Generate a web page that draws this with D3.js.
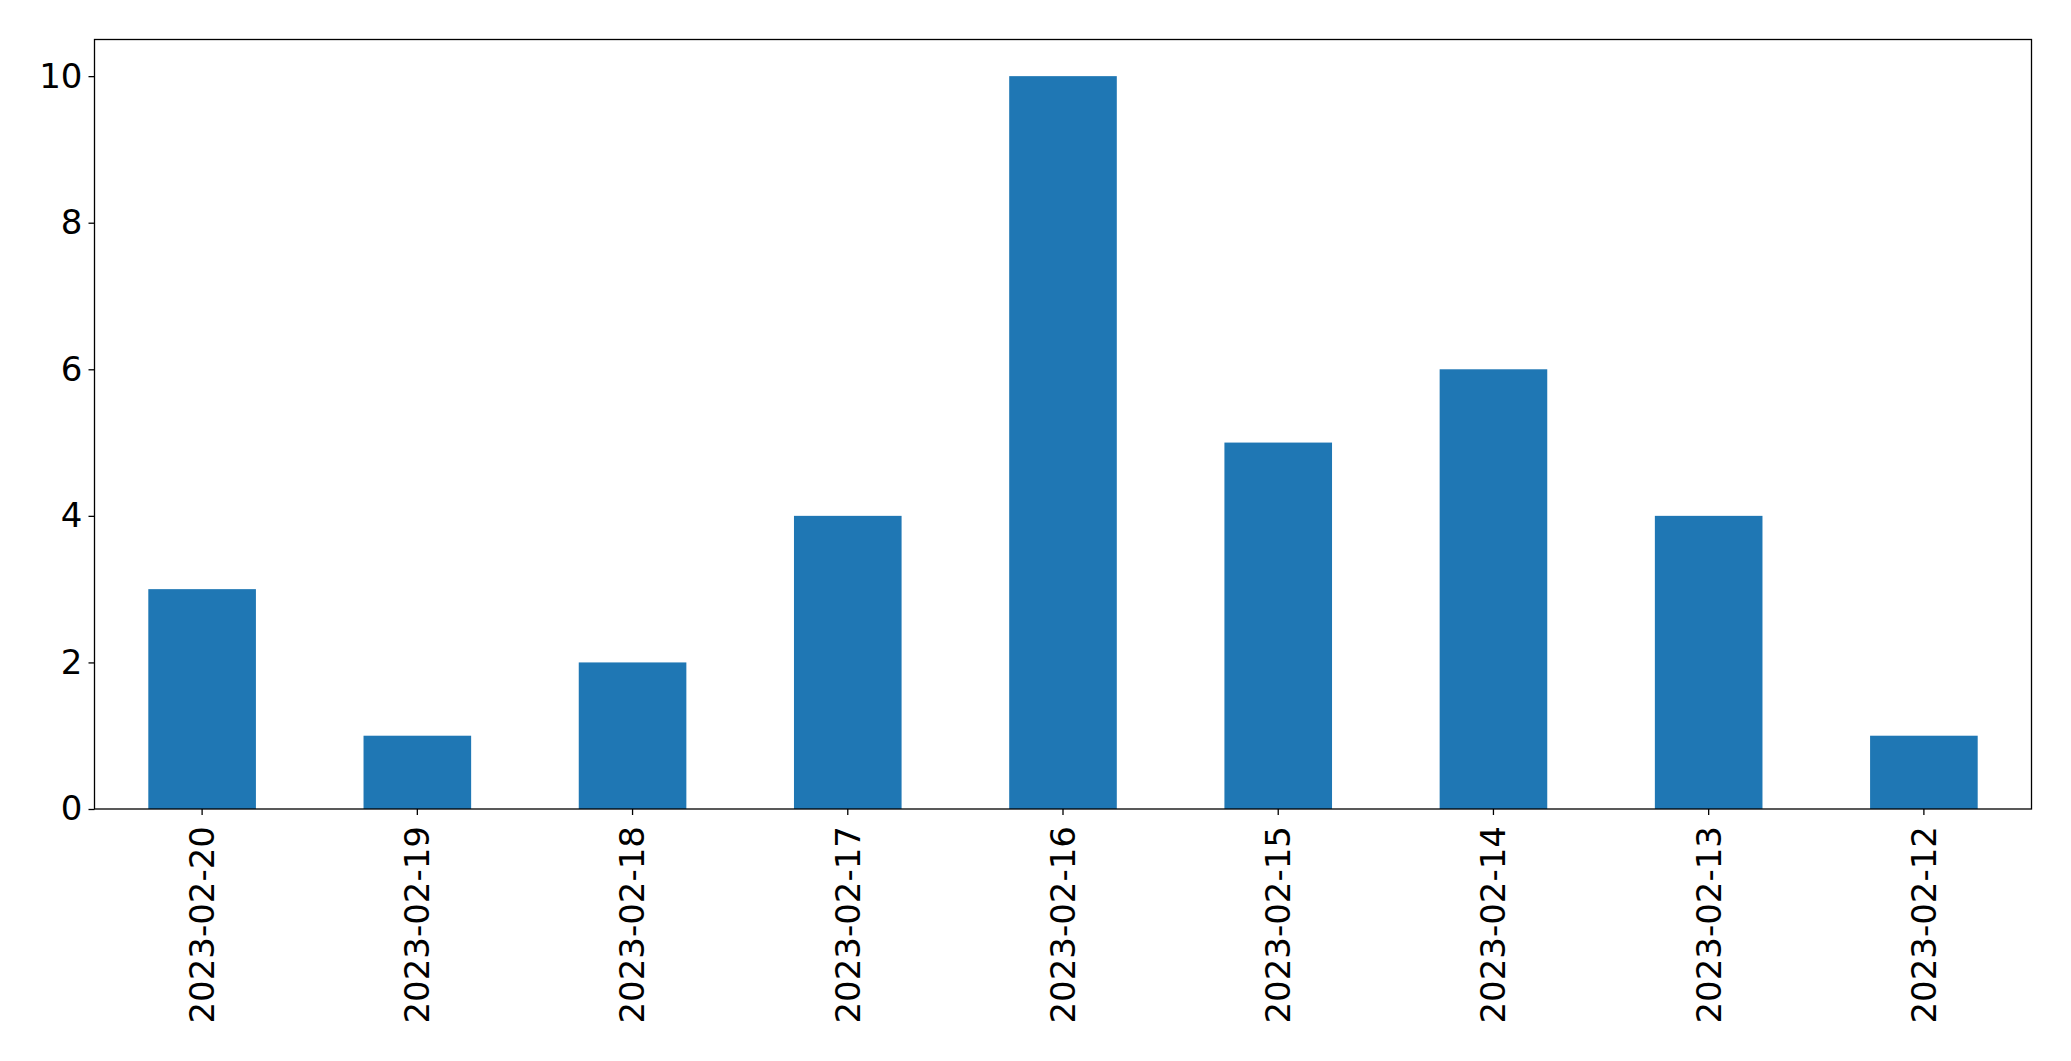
<!DOCTYPE html>
<html>
<head>
<meta charset="utf-8">
<script src="https://cdn.jsdelivr.net/npm/d3@7"></script>
<style>
  body { margin: 0; background: #fff; }
  svg { display: block; }
  .tick text { font-family: 'DejaVu Sans', sans-serif; }
</style>
</head>
<body>
<div id="chart"></div>
<script>
// Data
const dates = ['2023-02-20', '2023-02-19', '2023-02-18', '2023-02-17', '2023-02-16',
  '2023-02-15', '2023-02-14', '2023-02-13', '2023-02-12'];
const counts = [3, 1, 2, 4, 10, 5, 6, 4, 1];
const yTicks = [0, 2, 4, 6, 8, 10];

const width = 2071;
const height = 1061;
const margin = { t: 39.5, r: 39.5, b: 252, l: 94.5 };
const fontSize = 34;

const svg = d3.select('#chart')
  .append('svg')
  .attr('width', width)
  .attr('height', height);

const data = dates.map((d, i) => ({ date: d, count: counts[i] }));

// scales, matplotlib style: bar width 0.5, half a step of room at each end
const x = d3.scaleBand()
  .domain(dates)
  .range([margin.l, width - margin.r])
  .paddingInner(0.5)
  .paddingOuter(0.25);

const y = d3.scaleLinear()
  .domain([0, 10.5])
  .range([height - margin.b, margin.t]);

// bars
svg.append('g')
  .selectAll('rect')
  .data(data)
  .join('rect')
  .attr('x', (d) => x(d.date))
  .attr('y', (d) => y(d.count))
  .attr('width', x.bandwidth())
  .attr('height', (d) => y(0) - y(d.count))
  .attr('fill', '#1f77b4');

// x axis
const xAxis = svg.append('g')
  .attr('transform', `translate(0, ${height - margin.b})`)
  .call(d3.axisBottom(x).tickSize(6).tickSizeOuter(0));
xAxis.select('.domain').remove();
xAxis.selectAll('line').attr('stroke', '#000').attr('stroke-width', 1.3);
xAxis.selectAll('text')
  .attr('font-size', fontSize)
  .attr('fill', '#000')
  .attr('text-anchor', 'end')
  .attr('dy', '0.35em')
  .attr('transform', 'translate(0, 17) rotate(-90)')
  .attr('x', 0)
  .attr('y', 0);

// y axis
const yAxis = svg.append('g')
  .attr('transform', `translate(${margin.l}, 0)`)
  .call(d3.axisLeft(y).tickValues(yTicks).tickFormat(d3.format('d')).tickSize(6).tickPadding(6));
yAxis.select('.domain').remove();
yAxis.selectAll('line').attr('stroke', '#000').attr('stroke-width', 1.3);
yAxis.selectAll('text')
  .attr('font-size', fontSize)
  .attr('fill', '#000');

// frame
svg.append('rect')
  .attr('x', margin.l)
  .attr('y', margin.t)
  .attr('width', width - margin.l - margin.r)
  .attr('height', height - margin.t - margin.b)
  .attr('fill', 'none')
  .attr('stroke', '#000')
  .attr('stroke-width', 1.3);
</script>
</body>
</html>
